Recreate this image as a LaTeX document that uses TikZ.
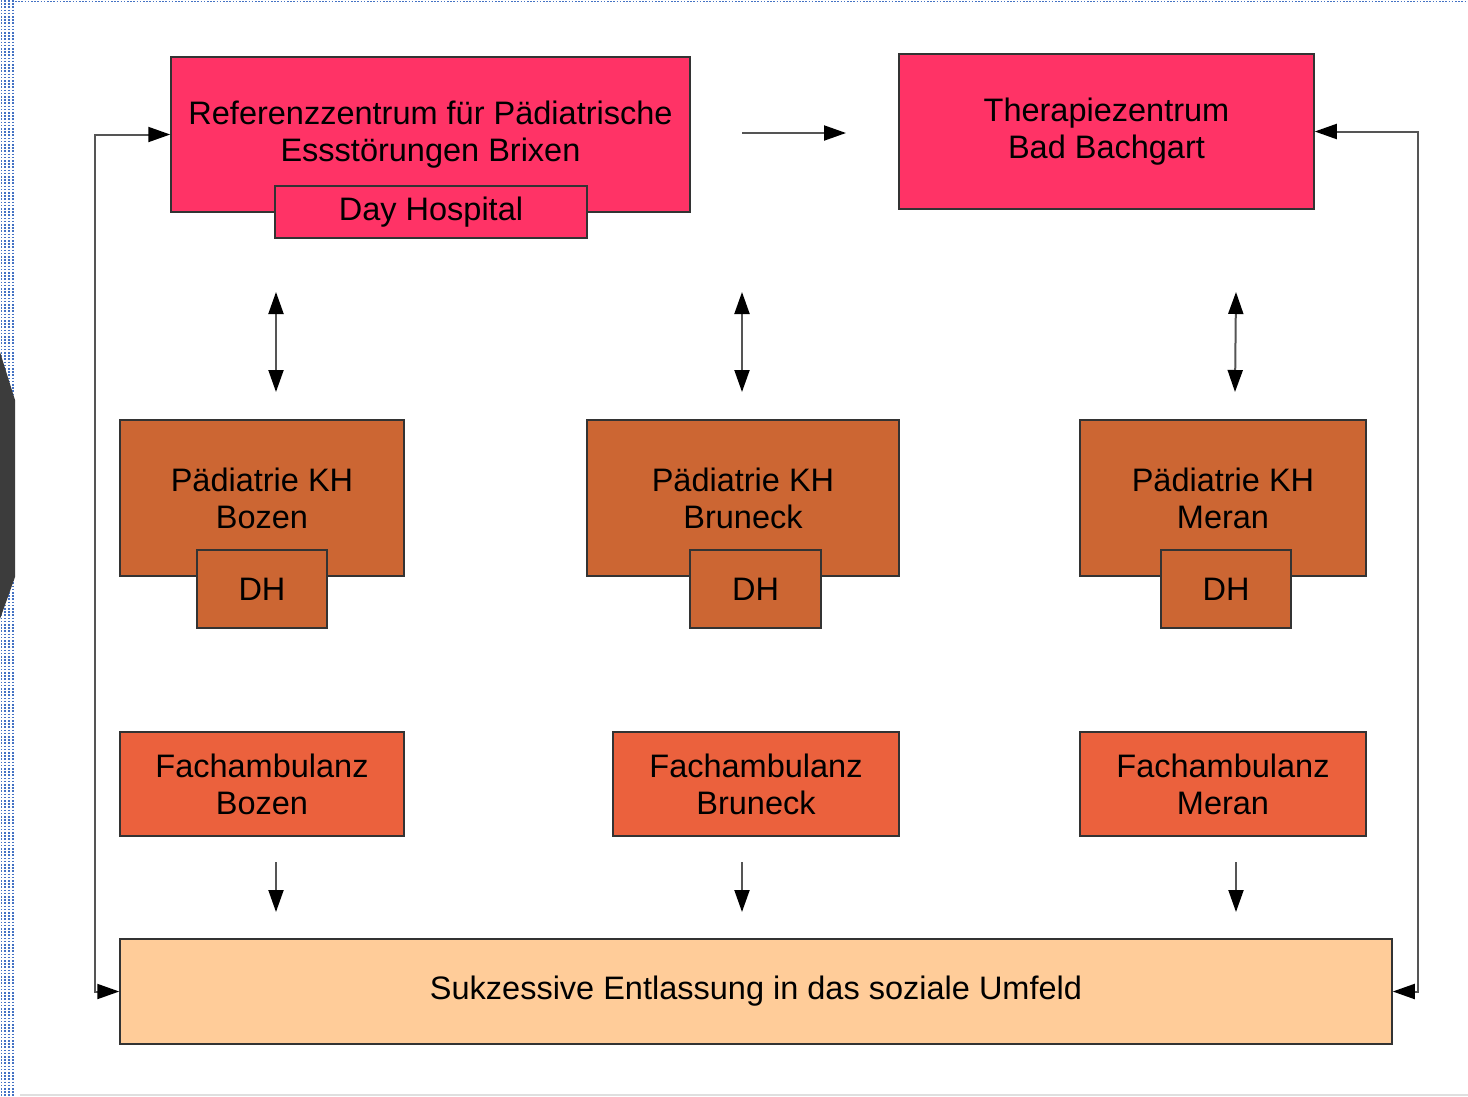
\documentclass[tikz,border=0pt]{standalone}
\usepackage{fontspec}
\setmainfont{Liberation Sans}
\usetikzlibrary{arrows.meta}
\definecolor{pinkc}{RGB}{255,51,102}
\definecolor{brownc}{RGB}{204,102,51}
\definecolor{orangec}{RGB}{235,97,61}
\definecolor{peachc}{RGB}{255,204,153}
\definecolor{linec}{RGB}{51,51,51}
\definecolor{connc}{RGB}{85,85,85}
\definecolor{dotc}{RGB}{68,114,196}
\definecolor{darkc}{RGB}{60,60,60}
\begin{document}
\begin{tikzpicture}[x=1pt,y=-1pt,
  box/.style={draw=linec, line width=1.5pt, rectangle, inner sep=0pt, align=center,
    font=\fontsize{32.5}{37}\selectfont},
  tip/.style={Triangle[length=22pt,width=15pt,color=black]},
  conn/.style={draw=connc, line width=2pt, -{Triangle[length=22pt,width=15pt,color=black]}},
  dconn/.style={draw=connc, line width=2pt, {Triangle[length=22pt,width=15pt,color=black]}-{Triangle[length=22pt,width=15pt,color=black]}},
  dotline/.style={draw=dotc, line width=1.6pt, dash pattern=on 1.6pt off 1.6pt}]
\useasboundingbox (0,0) rectangle (1468,1096);
\fill[white] (0,0) rectangle (1468,1096);
% slide frame artefacts
\foreach \xx in {1.5,5,9,13}{\draw[dotline] (\xx,0) -- (\xx,1096);}
\draw[dotline] (15,1.5) -- (1468,1.5);
\fill[darkc] (0,352) -- (15,400) -- (15,577) -- (0,619) -- cycle;
\draw[gray!25, line width=2pt] (20,1095) -- (1468,1095);

% top boxes
\node[box, fill=pinkc, minimum width=519pt, minimum height=155pt] (ref) at (430.5,134.5)
  {Referenzzentrum für Pädiatrische\\Essstörungen Brixen};
\node[box, fill=pinkc, minimum width=312pt, minimum height=52pt] (day) at (431,212)
  {Day Hospital};
\node[box, fill=pinkc, minimum width=415pt, minimum height=155pt] (ther) at (1106.5,131.5)
  {Therapiezentrum\\Bad Bachgart};

% middle row
\node[box, fill=brownc, minimum width=284pt, minimum height=156pt] (pbz) at (262,498)
  {Pädiatrie KH\\Bozen};
\node[box, fill=brownc, minimum width=130pt, minimum height=78pt] (dhbz) at (262,589) {DH};
\node[box, fill=brownc, minimum width=312pt, minimum height=156pt] (pbr) at (743,498)
  {Pädiatrie KH\\Bruneck};
\node[box, fill=brownc, minimum width=131pt, minimum height=78pt] (dhbr) at (755.5,589) {DH};
\node[box, fill=brownc, minimum width=286pt, minimum height=156pt] (pme) at (1223,498)
  {Pädiatrie KH\\Meran};
\node[box, fill=brownc, minimum width=130pt, minimum height=78pt] (dhme) at (1226,589) {DH};

% Fachambulanz row
\node[box, fill=orangec, minimum width=284pt, minimum height=104pt] (fbz) at (262,784)
  {Fachambulanz\\Bozen};
\node[box, fill=orangec, minimum width=286pt, minimum height=104pt] (fbr) at (756,784)
  {Fachambulanz\\Bruneck};
\node[box, fill=orangec, minimum width=286pt, minimum height=104pt] (fme) at (1223,784)
  {Fachambulanz\\Meran};

% bottom
\node[box, fill=peachc, minimum width=1272pt, minimum height=105pt] (suk) at (756,991.5)
  {Sukzessive Entlassung in das soziale Umfeld};

% free-standing arrows
\coordinate (h1) at (742,133); \coordinate (h2) at (846,133);
\draw[conn] (h1) -- (h2);
\coordinate (a1) at (276,292); \coordinate (a2) at (276,392);
\coordinate (b1) at (742,292); \coordinate (b2) at (742,392);
\coordinate (c1) at (1236,292); \coordinate (c2) at (1235,392);
\draw[dconn] (a1) -- (a2);
\draw[dconn] (b1) -- (b2);
\draw[dconn] (c1) -- (c2);
\coordinate (d1) at (276,862); \coordinate (d2) at (276,912);
\coordinate (e1) at (742,862); \coordinate (e2) at (742,912);
\coordinate (f1) at (1236,862); \coordinate (f2) at (1236,912);
\draw[conn] (d1) -- (d2);
\draw[conn] (e1) -- (e2);
\draw[conn] (f1) -- (f2);

% loops
\coordinate (lx) at (95,0);
\coordinate (rx) at (1418,0);
\draw[dconn] (ref.west) -- (ref.west -| lx) -- (suk.west -| lx) -- (suk.west);
\draw[dconn] (ther.east) -- (ther.east -| rx) -- (suk.east -| rx) -- (suk.east);
\end{tikzpicture}
\end{document}
